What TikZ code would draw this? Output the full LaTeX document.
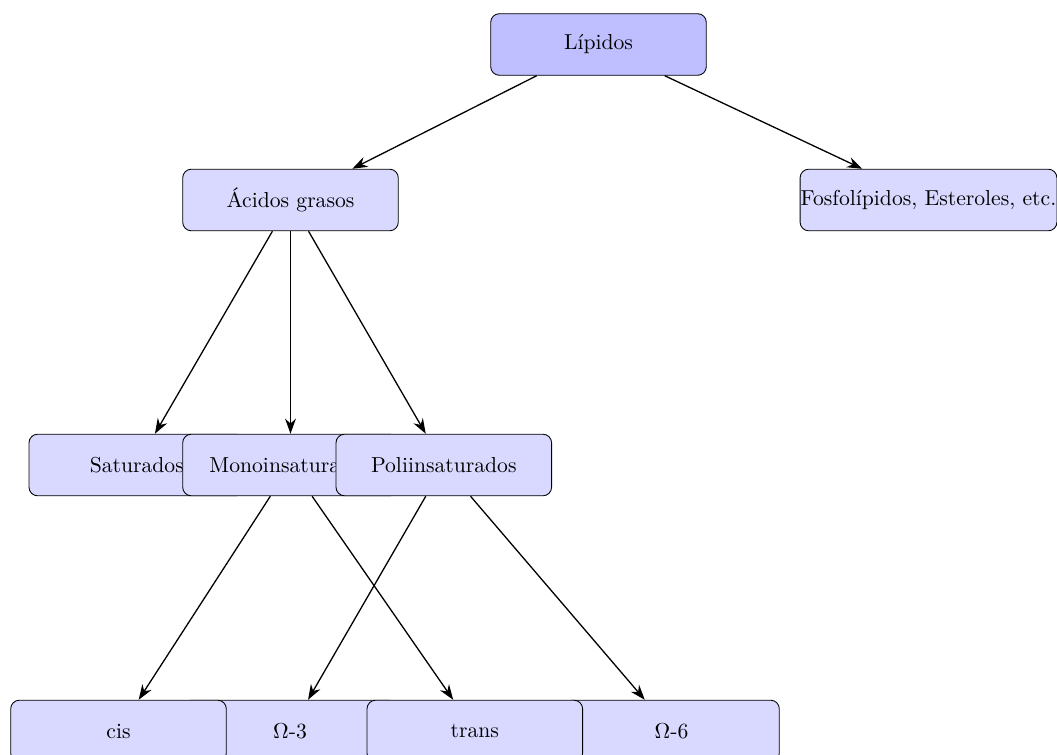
\documentclass[tikz,border=0pt]{standalone}
\usetikzlibrary{arrows.meta}
\begin{document}
\begin{tikzpicture}[x=1cm/61.6, y=-1cm/61.6,
  box/.style={draw=black, rounded corners=4pt, fill=blue!15,
              minimum width=3.5cm, minimum height=1cm, inner sep=0.3pt},
  rootbox/.style={box, fill=blue!25},
  link/.style={-{Stealth[length=7pt,width=5pt]}, semithick}]
  \useasboundingbox (0,0) rectangle (1057,754);

  % top level
  \node[rootbox] (lip) at (598.5,44.5) {Lípidos};
  \node[box] (acid) at (290.5,200) {Ácidos grasos};
  \node[box] (fosf) at (928.5,200) {Fosfolípidos, Esteroles, etc.};

  % fatty acid families
  \node[box] (sat)  at (136.8,465) {Saturados};
  \node[box] (mono) at (290.5,465) {Monoinsaturados};
  \node[box] (poli) at (443.8,465) {Poliinsaturados};

  % isomers and omega series
  \node[box] (om3)   at (290,731)   {$\Omega$-3};
  \node[box] (om6)   at (671.5,731) {$\Omega$-6};
  \node[box] (cis)   at (118.5,731) {cis};
  \node[box] (trans) at (474.8,731) {trans};

  % connectors
  \draw[link] (lip) -- (acid);
  \draw[link] (lip) -- (fosf);
  \draw[link] (acid) -- (sat);
  \draw[link] (acid) -- (mono);
  \draw[link] (acid) -- (poli);
  \draw[link] (mono) -- (cis);
  \draw[link] (mono) -- (trans);
  \draw[link] (poli) -- (om3);
  \draw[link] (poli) -- (om6);
\end{tikzpicture}
\end{document}
